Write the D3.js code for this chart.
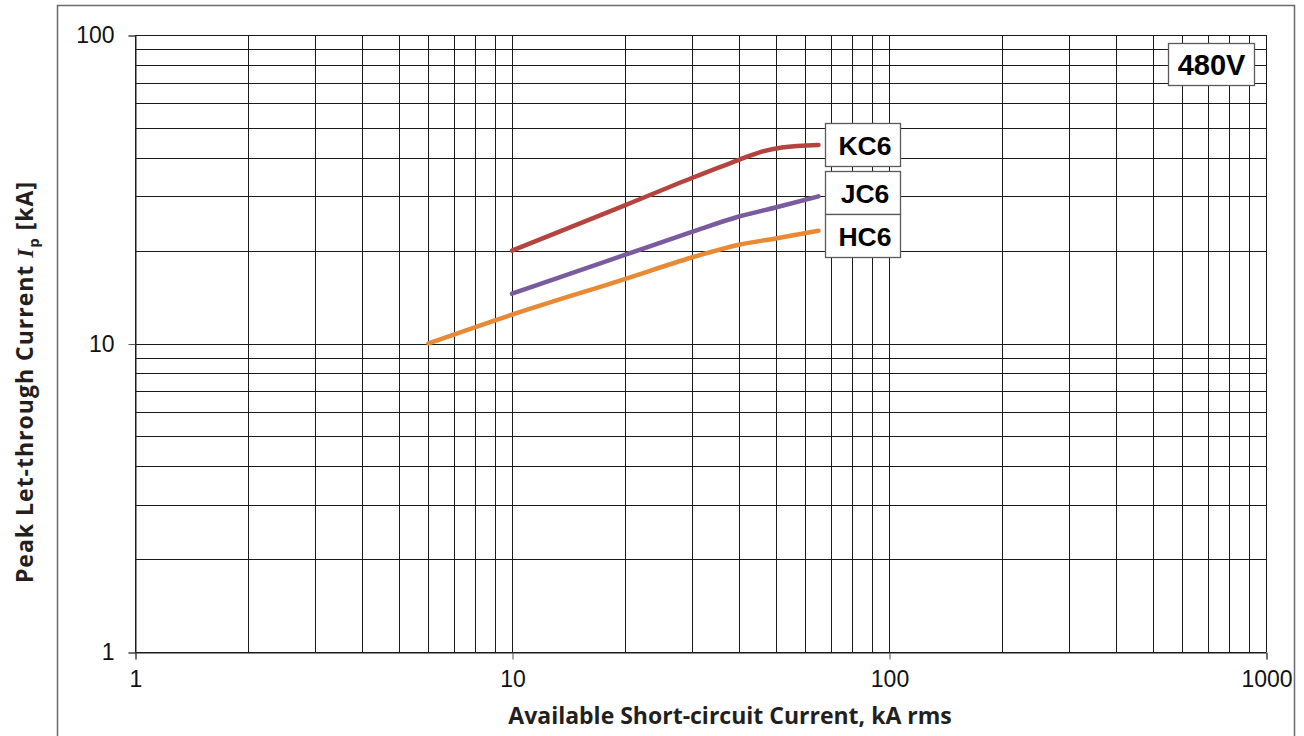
<!DOCTYPE html>
<html><head><meta charset="utf-8">
<script src="https://cdn.jsdelivr.net/npm/d3@7"></script>
<style>
html,body{margin:0;padding:0;background:#fff;}
svg{display:block;}
</style></head>
<body>
<svg id="chart" width="1304" height="736"></svg>
<script>
// ---- data ----
const xTickValues = [1, 10, 100, 1000];
const yTickValues = [1, 10, 100];
const xTickLabels = ["1", "10", "100", "1000"];
const yTickLabels = ["1", "10", "100"];
const seriesNames = ["KC6", "JC6", "HC6"];
const seriesColors = ["#b5443f", "#7a5c9e", "#e88a35"];
const kc6X = [10, 20, 30, 40, 46, 52, 65];
const kc6Y = [20, 28.1, 34.4, 39.4, 41.9, 43.2, 44];
const jc6X = [10, 20, 30, 40, 50, 65];
const jc6Y = [14.5, 19.4, 23.0, 25.8, 27.6, 30.0];
const hc6X = [6, 10, 20, 30, 40, 50, 65];
const hc6Y = [10, 12.4, 16.2, 19.0, 20.9, 21.9, 23.2];
const voltageLabel = "480V";
const xTitle = "Available Short-circuit Current, kA rms";

const svg = d3.select("#chart");

// outer frame
svg.append("rect").attr("x", 57.5).attr("y", 5.5).attr("width", 1237).attr("height", 745)
  .attr("fill", "none").attr("stroke", "#6a6a6a").attr("stroke-width", 1.5);

const x = d3.scaleLog().domain([1, 1000]).range([135, 1266]);
const y = d3.scaleLog().domain([1, 100]).range([652, 35]);

const grid = svg.append("g");
const xMinor = [];
for (let d = 1; d < 1000; d *= 10) for (let k = 1; k <= 9; k++) xMinor.push(d * k);
xMinor.push(1000);
const yMinor = [];
for (let d = 1; d < 100; d *= 10) for (let k = 1; k <= 9; k++) yMinor.push(d * k);
yMinor.push(100);

grid.selectAll("line.vx").data(xMinor).join("line")
  .attr("x1", d => Math.round(x(d)) + 0.5).attr("x2", d => Math.round(x(d)) + 0.5)
  .attr("y1", y(100)).attr("y2", y(1))
  .attr("stroke", "#1a1a1a").attr("stroke-width", 1);
grid.selectAll("line.hy").data(yMinor).join("line")
  .attr("y1", d => Math.round(y(d)) + 0.5).attr("y2", d => Math.round(y(d)) + 0.5)
  .attr("x1", x(1)).attr("x2", x(1000))
  .attr("stroke", "#1a1a1a").attr("stroke-width", 1);

// axes (major ticks)
const xAxis = d3.axisBottom(x).tickValues(xTickValues).tickSize(7).tickPadding(11)
  .tickFormat((d, i) => xTickLabels[i]);
const gx = svg.append("g").attr("transform", `translate(0.5,${Math.round(y(1)) + 0.5})`).call(xAxis);
gx.select(".domain").attr("stroke", "#1a1a1a");
gx.selectAll(".tick line").attr("stroke", "#555");
gx.selectAll(".tick text").attr("font-family", "'Liberation Sans', Arial, sans-serif")
  .attr("font-size", 23).attr("fill", "#111");

const yAxis = d3.axisLeft(y).tickValues(yTickValues).tickSize(7).tickPadding(14)
  .tickFormat((d, i) => yTickLabels[i]);
const gy = svg.append("g").attr("transform", `translate(${Math.round(x(1)) + 0.5},0.5)`).call(yAxis);
gy.select(".domain").attr("stroke", "#1a1a1a");
gy.selectAll(".tick line").attr("stroke", "#555");
gy.selectAll(".tick text").attr("font-family", "'Liberation Sans', Arial, sans-serif")
  .attr("font-size", 23).attr("fill", "#111");

// series
const seriesData = [
  kc6X.map((v, i) => [v, kc6Y[i]]),
  jc6X.map((v, i) => [v, jc6Y[i]]),
  hc6X.map((v, i) => [v, hc6Y[i]])
];
const line = d3.line().x(d => x(d[0])).y(d => y(d[1])).curve(d3.curveMonotoneX);
svg.append("g").selectAll("path").data(seriesData).join("path")
  .attr("d", line).attr("fill", "none")
  .attr("stroke", (d, i) => seriesColors[i]).attr("stroke-width", 4.5)
  .attr("stroke-linecap", "round");

// series labels in boxes
const boxX = 825.5, boxW = 75;
const boxes = [
  {top: 123.5, h: 43},
  {top: 171.5, h: 43},
  {top: 214.5, h: 43}
];
const lg = svg.append("g");
boxes.forEach((b, i) => {
  lg.append("rect").attr("x", boxX).attr("y", b.top).attr("width", boxW).attr("height", b.h)
    .attr("fill", "#fff").attr("stroke", "#5a5a5a").attr("stroke-width", 1.3);
  lg.append("text").attr("x", boxX + boxW / 2 + 2).attr("y", b.top + b.h / 2 + 9.5)
    .attr("text-anchor", "middle").attr("font-family", "'Liberation Sans', Arial, sans-serif")
    .attr("font-weight", "bold").attr("font-size", 26.5).attr("fill", "#000").text(seriesNames[i]);
});

// voltage box
svg.append("rect").attr("x", 1168.5).attr("y", 43.5).attr("width", 86).attr("height", 42)
  .attr("fill", "#fff").attr("stroke", "#5a5a5a").attr("stroke-width", 1.3);
svg.append("text").attr("x", 1211.5).attr("y", 75).attr("text-anchor", "middle")
  .attr("font-family", "'Liberation Sans', Arial, sans-serif").attr("font-weight", "bold")
  .attr("font-size", 29).attr("fill", "#000").text(voltageLabel);

// axis titles
svg.append("text").attr("x", 730).attr("y", 724).attr("text-anchor", "middle")
  .attr("font-family", "'Open Sans', sans-serif").attr("font-weight", "bold")
  .attr("font-size", 23).attr("fill", "#231f20").text(xTitle);

const yt = svg.append("text").attr("transform", "translate(33,382) rotate(-90)")
  .attr("text-anchor", "middle").attr("font-family", "'Open Sans', sans-serif")
  .attr("font-weight", "bold").attr("font-size", 23).attr("letter-spacing", 1)
  .attr("fill", "#231f20");
yt.append("tspan").text("Peak Let-through Current ");
yt.append("tspan").attr("font-style", "italic").attr("font-family", "'Liberation Serif', serif").text("I");
yt.append("tspan").attr("font-size", 15).attr("dy", 6).text("p");
yt.append("tspan").attr("dy", -6).text(" [kA]");
</script>
</body></html>
